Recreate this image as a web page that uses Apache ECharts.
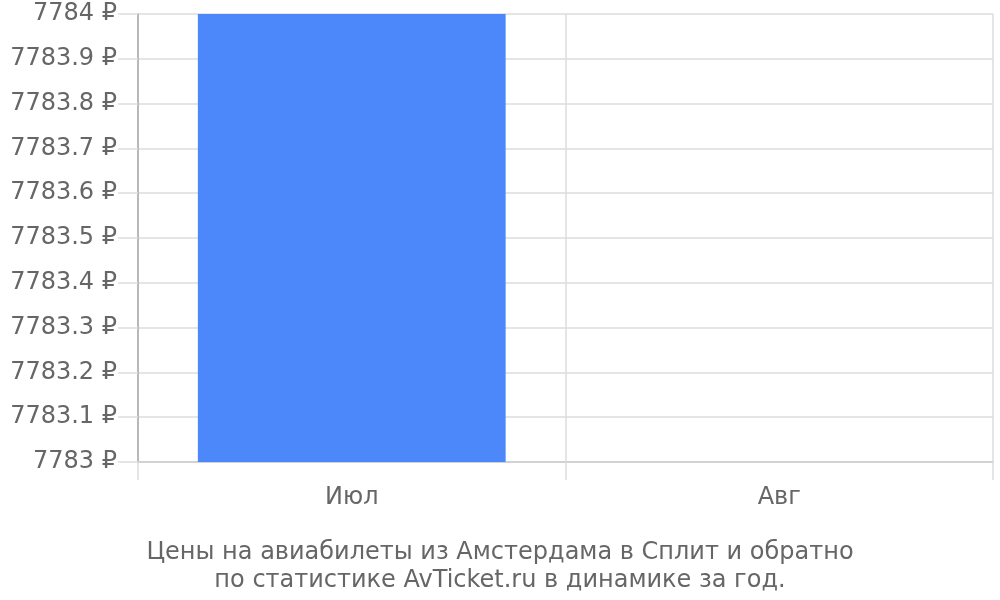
<!DOCTYPE html>
<html>
<head>
<meta charset="utf-8">
<script src="https://cdn.jsdelivr.net/npm/echarts@6/dist/echarts.min.js"></script>
<style>html,body{margin:0;padding:0;background:#fff}#c{width:1000px;height:600px}</style>
</head>
<body>
<div id="c"></div>
<script>
const categories = ['Июл', 'Авг'];
const prices = [7784, 7783];
const yMin = 7783, yMax = 7784, yStep = 0.1;
const titleLines = ['Цены на авиабилеты из Амстердама в Сплит и обратно', 'по статистике AvTicket.ru в динамике за год.'];

const chart = echarts.init(document.getElementById('c'));
chart.setOption({
  animation: false,
  textStyle: { fontFamily: 'DejaVu Sans' },
  title: {
    text: titleLines.join('\n'),
    left: 'center',
    top: 534,
    textStyle: { fontFamily: 'DejaVu Sans', fontSize: 24, fontWeight: 'normal', color: '#666', lineHeight: 28 }
  },
  grid: { left: 138, right: 7, top: 14, bottom: 138, containLabel: false },
  xAxis: {
    type: 'category',
    data: categories,
    boundaryGap: true,
    axisLine: { show: true, lineStyle: { color: '#ccc', width: 1.5 } },
    axisTick: { show: true, length: 18, lineStyle: { color: '#ddd', width: 1.5 } },
    axisLabel: { fontSize: 24, color: '#666', margin: 24, fontFamily: 'DejaVu Sans' },
    splitLine: { show: true, lineStyle: { color: '#ddd', width: 1.5 } }
  },
  yAxis: {
    type: 'value',
    min: yMin, max: yMax, interval: yStep,
    axisLine: { show: true, lineStyle: { color: '#aaa', width: 1.5 } },
    axisTick: { show: true, length: 20, lineStyle: { color: '#ddd', width: 1.5 } },
    axisLabel: {
      fontSize: 24, color: '#666', margin: 21, fontFamily: 'DejaVu Sans',
      padding: [4, 0, 0, 0],
      formatter: v => parseFloat(v.toFixed(1)) + ' ₽'
    },
    splitLine: { show: true, lineStyle: { color: '#ddd', width: 1.5 } }
  },
  series: [{
    type: 'bar',
    data: prices,
    barWidth: '72%',
    itemStyle: { color: '#4d88fa' }
  }]
});
</script>
</body>
</html>
